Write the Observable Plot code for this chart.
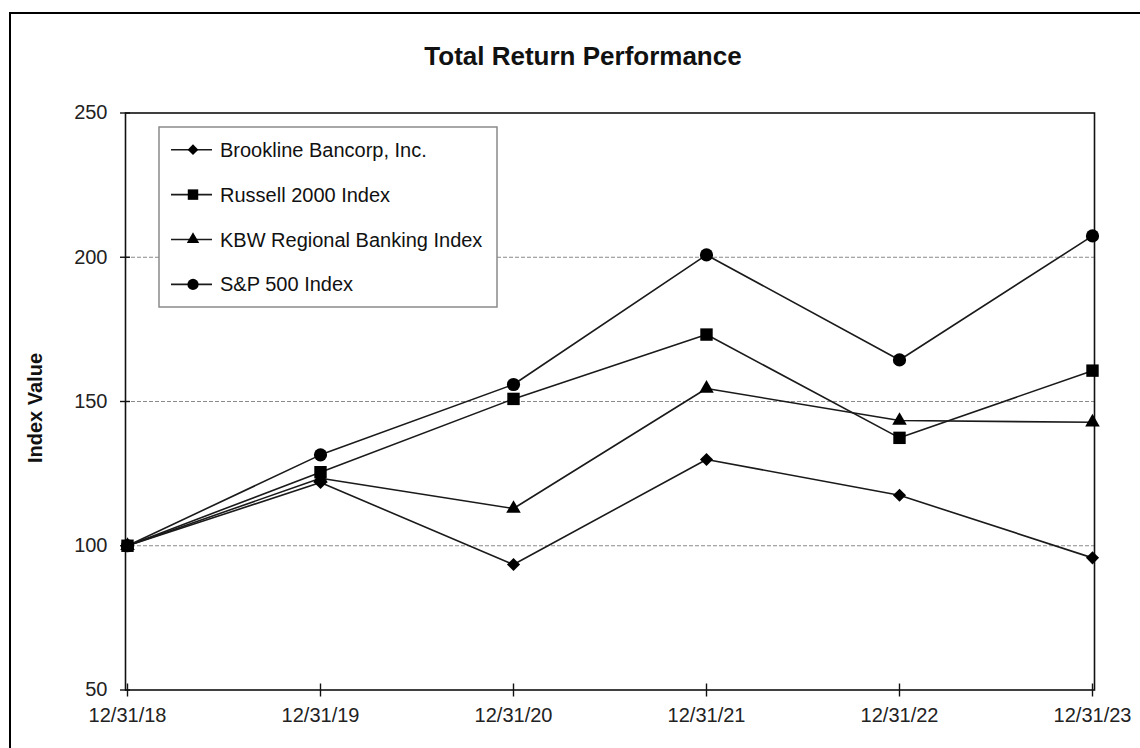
<!DOCTYPE html>
<html>
<head>
<meta charset="utf-8">
<script src="https://cdn.jsdelivr.net/npm/d3@7"></script>
<script src="https://cdn.jsdelivr.net/npm/@observablehq/plot@0.6"></script>
<style>
  html, body { margin: 0; padding: 0; background: #fff; overflow: hidden; }
  #chart svg { display: block; }
</style>
</head>
<body>
<div id="chart"></div>
<script>
const dates = ["12/31/18", "12/31/19", "12/31/20", "12/31/21", "12/31/22", "12/31/23"];
const seriesNames = ["Brookline Bancorp, Inc.", "Russell 2000 Index", "KBW Regional Banking Index", "S&P 500 Index"];
const seriesSymbols = ["diamond2", "square", "triangle", "circle"];
const brookline = [100, 121.9, 93.5, 129.9, 117.5, 95.8];
const russell2000 = [100, 125.5, 150.9, 173.2, 137.4, 160.7];
const kbwRegional = [100, 123.4, 112.9, 154.5, 143.4, 142.8];
const sp500 = [100, 131.5, 155.9, 200.8, 164.4, 207.4];
const yTicks = [50, 100, 150, 200, 250];
const gridValues = [100, 150, 200];
const titleText = "Total Return Performance";
const yLabelText = "Index Value";

const seriesValues = [brookline, russell2000, kbwRegional, sp500];
const symbolR = {diamond2: 5.9, square: 7.0, triangle: 5.4, circle: 6.6};

const rows = [];
seriesNames.forEach((name, i) => {
  seriesValues[i].forEach((v, j) => rows.push({series: name, symbol: seriesSymbols[i], date: dates[j], value: v}));
});

const W = 1140, H = 748;
const font = "'Liberation Sans', Arial, Helvetica, sans-serif";

const marks = [
  Plot.ruleY(gridValues, {stroke: "#8a8a8a", strokeWidth: 1, strokeDasharray: "4,2"}),
  Plot.frame({stroke: "#111", strokeWidth: 1.6}),
  Plot.axisY(yTicks, {tickSize: 10, dx: 5, tickPadding: 13, fill: "#222", stroke: "#111", strokeWidth: 1.4, label: null}),
  Plot.axisX(dates, {tickSize: 13, dy: -6, tickPadding: 11, fill: "#222", stroke: "#111", strokeWidth: 1.4, label: null}),
  Plot.line(rows, {x: "date", y: "value", z: "series", stroke: "#1a1a1a", strokeWidth: 1.6})
];
seriesNames.forEach((name, i) => {
  const sym = seriesSymbols[i];
  marks.push(Plot.dot(rows.filter(d => d.series === name), {x: "date", y: "value", symbol: sym, r: symbolR[sym], fill: "#000", stroke: "none"}));
});

const chart = Plot.plot({
  width: W,
  height: H,
  marginLeft: 125,
  marginRight: 46,
  marginTop: 112.5,
  marginBottom: 58.5,
  style: {fontSize: "20px", fontFamily: font, background: "#fff", color: "#111"},
  x: {type: "point", domain: dates, padding: 0, label: null},
  y: {domain: [50, 250], label: null},
  marks
});

const svg = d3.select(chart);

// outer border
svg.insert("rect", ":first-child")
  .attr("x", 10).attr("y", 13).attr("width", 1300).attr("height", 900)
  .attr("fill", "none").attr("stroke", "#000").attr("stroke-width", 2);

// title
svg.append("text")
  .attr("x", 583).attr("y", 65)
  .attr("text-anchor", "middle")
  .attr("font-family", font).attr("font-size", 26).attr("font-weight", "bold").attr("fill", "#111")
  .text(titleText);

// y label
svg.append("text")
  .attr("transform", "translate(42,408) rotate(-90)")
  .attr("text-anchor", "middle")
  .attr("font-family", font).attr("font-size", 20).attr("font-weight", "bold").attr("fill", "#111")
  .text(yLabelText);

// legend
const lg = svg.append("g");
lg.append("rect")
  .attr("x", 159).attr("y", 127).attr("width", 338).attr("height", 180)
  .attr("fill", "#fff").attr("stroke", "#8a8a8a").attr("stroke-width", 1.5);
const legendSymbol = {diamond2: d3.symbolDiamond2, square: d3.symbolSquare, triangle: d3.symbolTriangle, circle: d3.symbolCircle};
const legendR = {diamond2: 4.8, square: 5.9, triangle: 4.6, circle: 5.6};
seriesNames.forEach((name, i) => {
  const cy = 149.7 + i * 44.9;
  const g = lg.append("g");
  g.append("line").attr("x1", 171).attr("x2", 212).attr("y1", cy).attr("y2", cy)
    .attr("stroke", "#1a1a1a").attr("stroke-width", 1.6);
  const sym = seriesSymbols[i];
  g.append("path")
    .attr("d", d3.symbol(legendSymbol[sym], legendR[sym] * legendR[sym] * Math.PI)())
    .attr("transform", `translate(193,${cy})`)
    .attr("fill", "#000");
  g.append("text").attr("x", 220).attr("y", cy + 7)
    .attr("text-anchor", "start")
    .attr("font-family", font).attr("font-size", 20).attr("fill", "#111")
    .text(name);
});

document.getElementById("chart").appendChild(chart);
</script>
</body>
</html>
